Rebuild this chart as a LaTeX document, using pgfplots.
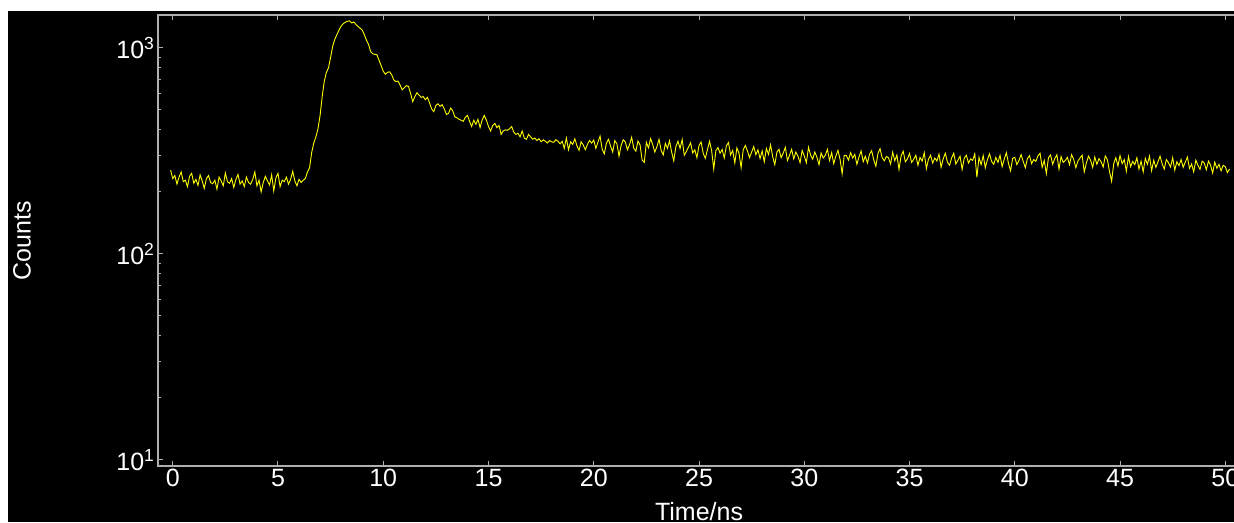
\documentclass[border=0pt]{standalone}
\usepackage{fontspec}
\setmainfont{Liberation Sans}
\usepackage{pgfplots}
\usepackage{pgfplotstable}
\pgfplotsset{compat=1.18}

\definecolor{axgray}{RGB}{175,175,175}
\definecolor{trace}{RGB}{255,255,0}

% counts per 0.1 ns bin, first bin at -0.1 ns
\pgfplotstableread[row sep=\\]{
c\\
255\\
232\\240\\218\\236\\250\\224\\228\\212\\238\\246\\
220\\230\\215\\242\\226\\208\\232\\240\\222\\219\\
228\\206\\236\\226\\214\\247\\224\\220\\232\\210\\
230\\243\\218\\226\\212\\236\\222\\218\\230\\250\\
214\\228\\200\\222\\238\\226\\216\\242\\202\\234\\
246\\212\\228\\224\\236\\218\\230\\252\\226\\214\\
230\\222\\228\\232\\250\\262\\310\\345\\370\\405\\
470\\580\\690\\760\\800\\900\\1020\\1100\\1160\\1220\\
1275\\1310\\1330\\1345\\1352\\1320\\1335\\1300\\1270\\1245\\
1220\\1160\\1090\\1040\\960\\935\\930\\925\\870\\820\\
770\\745\\760\\765\\740\\700\\685\\690\\660\\625\\
640\\655\\650\\600\\548\\580\\605\\590\\575\\580\\
560\\575\\540\\505\\490\\525\\535\\520\\530\\505\\
475\\480\\510\\495\\462\\458\\450\\445\\440\\460\\
470\\440\\415\\445\\425\\450\\410\\448\\470\\445\\
415\\395\\420\\430\\410\\420\\380\\395\\400\\398\\
405\\415\\390\\380\\385\\370\\395\\365\\360\\380\\
370\\360\\365\\355\\362\\350\\358\\352\\345\\355\\
350\\348\\358\\352\\342\\352\\325\\365\\320\\350\\
340\\362\\335\\318\\350\\338\\320\\340\\355\\345\\
357\\325\\349\\373\\322\\306\\344\\360\\333\\312\\
355\\342\\298\\336\\358\\349\\320\\339\\368\\326\\
315\\353\\338\\285\\278\\348\\327\\363\\339\\312\\
331\\360\\318\\302\\344\\325\\354\\312\\283\\331\\
352\\325\\359\\301\\314\\330\\346\\309\\320\\293\\
336\\349\\307\\291\\320\\352\\317\\258\\317\\328\\
308\\321\\292\\334\\347\\302\\318\\276\\327\\308\\
262\\320\\336\\316\\293\\312\\332\\303\\320\\290\\
316\\280\\325\\304\\338\\296\\271\\312\\322\\293\\
308\\329\\284\\301\\322\\289\\312\\298\\277\\318\\
299\\277\\329\\302\\288\\312\\295\\271\\309\\292\\
301\\322\\284\\310\\274\\298\\318\\288\\245\\301\\
300\\285\\310\\292\\304\\272\\296\\316\\280\\298\\
276\\304\\317\\286\\266\\307\\324\\293\\283\\297\\
293\\273\\312\\283\\302\\257\\299\\315\\280\\289\\
307\\278\\288\\301\\269\\294\\282\\310\\259\\288\\
301\\276\\292\\282\\305\\263\\289\\308\\279\\269\\
292\\308\\273\\285\\298\\257\\292\\301\\276\\289\\
284\\306\\235\\294\\271\\300\\262\\287\\306\\281\\
272\\294\\278\\301\\265\\288\\310\\275\\253\\291\\
294\\271\\284\\303\\281\\262\\290\\300\\274\\287\\
281\\299\\308\\263\\284\\245\\293\\302\\272\\290\\
303\\258\\297\\278\\284\\294\\271\\303\\287\\262\\
282\\292\\301\\250\\276\\298\\285\\263\\295\\272\\
290\\280\\264\\299\\286\\251\\225\\274\\293\\267\\
300\\274\\287\\252\\297\\265\\281\\271\\293\\258\\
282\\250\\291\\272\\298\\253\\285\\263\\279\\298\\
274\\258\\287\\277\\264\\293\\255\\280\\268\\287\\
263\\279\\295\\260\\273\\250\\285\\269\\257\\282\\
276\\256\\282\\269\\247\\279\\260\\272\\253\\269\\
265\\248\\258\\
}\decay

\begin{document}
\begin{tikzpicture}[x=1pt,y=1pt]
\fill[white] (0,0) rectangle (1234,522);
\fill[black] (8,0) rectangle (1234,511);
\begin{axis}[
    at={(158pt,56pt)}, anchor=south west,
    scale only axis, width=1082pt, height=451pt,
    ymode=log,
    xmin=-0.7, xmax=50.7,
    ymin=9.35, ymax=1443,
    axis line style={axgray, line width=1.2pt},
    every tick/.style={axgray, line width=1pt},
    major tick length=5pt, minor tick length=3pt,
    tick align=inside,
    xtick={0,5,...,50},
    ytick={10,100,1000},
    yticklabels={10\textsuperscript{1},10\textsuperscript{2},10\textsuperscript{3}},
    /pgf/number format/assume math mode=true,
    ticklabel style={white, font=\fontsize{25}{29}\selectfont},
    xlabel={Time/ns}, ylabel={Counts},
    label style={white, font=\fontsize{25}{29}\selectfont},
    xlabel style={at={(axis description cs:0.5,0)}, anchor=center, yshift=-46pt},
    ylabel style={at={(axis description cs:-0.1257,0.5)}, anchor=center},
]
\addplot[trace, line width=0.9pt] table[x expr=\coordindex/10-0.1, y=c] {\decay};
\end{axis}
\pgfresetboundingbox
\path[use as bounding box] (0,0) rectangle (1234,522);
\end{tikzpicture}
\end{document}
